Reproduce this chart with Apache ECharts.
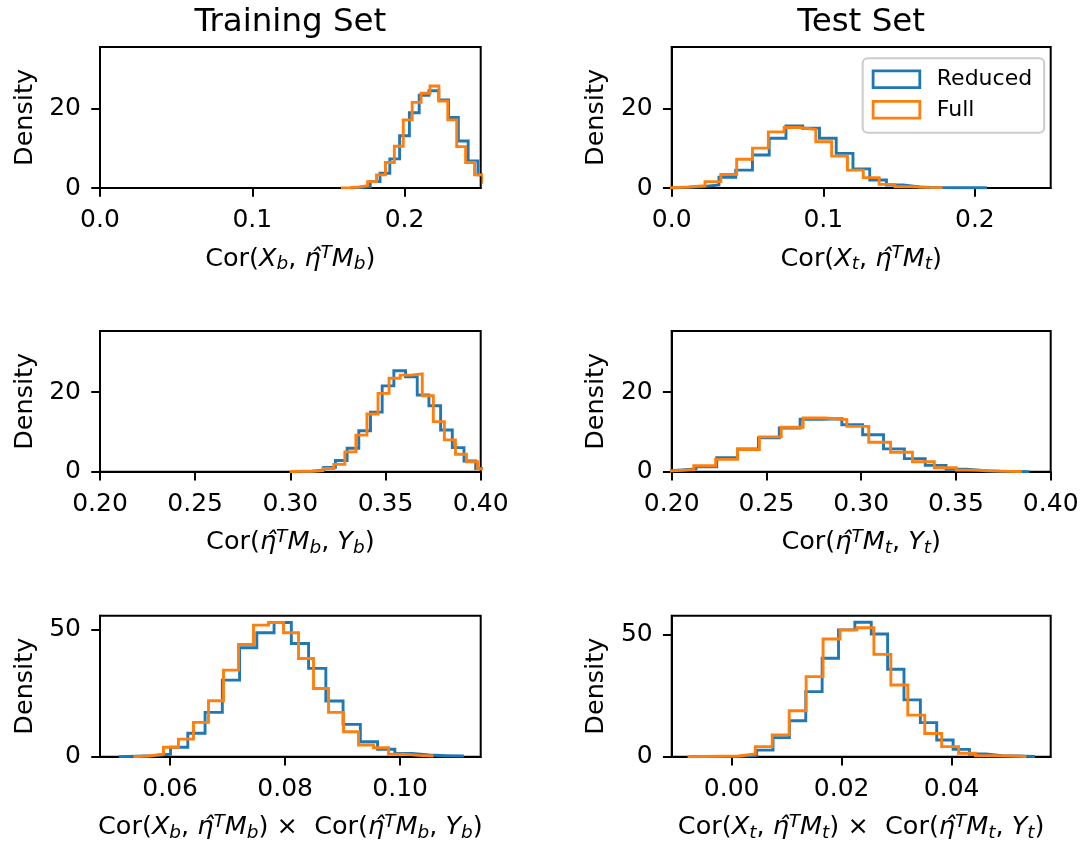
<!DOCTYPE html>
<html>
<head>
<meta charset="utf-8">
<title>Correlation histograms</title>
<script src="https://cdn.jsdelivr.net/npm/echarts@6/dist/echarts.min.js"></script>
<style>
  html, body { margin: 0; padding: 0; background: #fff; }
  #chart { width: 1088px; height: 848px; }
</style>
</head>
<body>
<div id="chart"></div>
<script>
// ---- histogram data: [first bin edge, bin width] and bin densities ----
// Row 1: Cor(X, eta^T M)
const trainXM_Reduced_bins = [0.1646, 0.00643];
const trainXM_Reduced = [0.1, 0.3, 1.6, 3.7, 7.3, 13.1, 18.9, 23.3, 24.4, 22.1, 17.7, 11.8, 6.8, 3.3, 1.2, 0.4];
const trainXM_Full_bins = [0.1582, 0.00585];
const trainXM_Full = [0.1, 0.25, 0.6, 1.6, 3.3, 6.4, 10.5, 17.1, 21.5, 23.8, 25.6, 21.8, 17.1, 10.4, 6.4, 3.3, 1.4, 0.5];

const testXM_Reduced_bins = [-0.00198, 0.01105];
const testXM_Reduced = [0.15, 0.3, 0.75, 2.7, 4.5, 8.3, 12.5, 15.6, 15.0, 12.5, 8.7, 4.8, 2.0, 0.75, 0.25, 0.1, 0.05, 0.05, 0.05];
const testXM_Full_bins = [-0.00934, 0.01044];
const testXM_Full = [0.1, 0.25, 0.6, 1.6, 3.4, 7.2, 10.0, 14.1, 15.2, 14.7, 11.6, 8.0, 4.5, 2.6, 0.9, 0.3, 0.15, 0.1];

// Row 2: Cor(eta^T M, Y)
const trainMY_Reduced_bins = [0.30526, 0.00614];
const trainMY_Reduced = [0.1, 0.4, 1.1, 2.8, 5.9, 10.3, 15.0, 21.6, 25.4, 23.9, 19.3, 16.6, 10.5, 6.05, 2.7, 0.8];
const trainMY_Full_bins = [0.29958, 0.00581];
const trainMY_Full = [0.1, 0.1, 0.25, 0.8, 1.85, 5.0, 9.2, 14.5, 19.7, 23.5, 24.3, 24.6, 19.1, 12.6, 8.0, 4.4, 2.5, 0.7];

const testMY_Reduced_bins = [0.19077, 0.0110];
const testMY_Reduced = [0.3, 0.7, 1.25, 3.5, 5.7, 8.5, 11.0, 13.2, 13.3, 11.8, 9.3, 5.75, 3.3, 1.6, 0.6, 0.17, 0.08, 0.03];
const testMY_Full_bins = [0.18857, 0.01154];
const testMY_Full = [0.2, 0.5, 1.5, 3.1, 5.6, 8.75, 11.2, 13.5, 13.1, 11.4, 7.4, 4.9, 2.5, 1.0, 0.4, 0.15, 0.05];

// Row 3: product of the two correlations
const trainProd_Reduced_bins = [0.05107, 0.0030];
const trainProd_Reduced = [0.2, 0.4, 1.0, 3.7, 9.2, 17.4, 30.1, 42.8, 48.7, 52.7, 44.5, 34.7, 21.9, 12.7, 5.9, 2.9, 1.3, 0.65, 0.4, 0.26];
const trainProd_Full_bins = [0.05362, 0.002609];
const trainProd_Full = [0.26, 1.0, 3.7, 6.9, 13.5, 22.0, 34.0, 44.1, 51.7, 52.7, 48.7, 38.6, 26.8, 17.4, 9.8, 4.6, 3.5, 1.0, 0.5, 0.26];

const testProd_Reduced_bins = [-0.00736, 0.002976];
const testProd_Reduced = [0.1, 0.15, 0.2, 0.5, 2.7, 7.8, 14.7, 26.6, 40.2, 51.8, 54.9, 50.1, 35.7, 23.2, 13.9, 6.8, 3.0, 1.1, 0.4, 0.27, 0.1];
const testProd_Full_bins = [-0.00802, 0.00308];
const testProd_Full = [0.1, 0.2, 0.3, 1.1, 4.1, 8.9, 18.8, 32.7, 48.1, 51.8, 52.7, 41.8, 29.3, 17.0, 9.5, 4.1, 1.4, 0.4, 0.27, 0.1];

// ---- axis ranges and tick labels ----
const xRangeRow1 = [0, 0.25];
const xRangeRow2 = [0.2, 0.4];
const xRangeTrainProd = [0.0478, 0.1140];
const xRangeTestProd = [-0.0109, 0.0580];
const yMaxRow1 = 35.4;
const yMaxRow2 = 35.4;
const yMaxTrainProd = 55.4;
const yMaxTestProd = 57.6;

const xTicksRow1 = ['0.0', '0.1', '0.2'];
const xTicksRow2 = ['0.20', '0.25', '0.30', '0.35', '0.40'];
const xTicksTrainProd = ['0.06', '0.08', '0.10'];
const xTicksTestProd = ['0.00', '0.02', '0.04'];
const yTicksRows12 = ['0', '20'];
const yTicksRow3 = ['0', '50'];

const seriesNames = ['Reduced', 'Full'];
const columnTitles = ['Training Set', 'Test Set'];
const yLabel = 'Density';

// x-axis labels as rich text (r: roman, i: italic, s: subscript, p: superscript)
const xLabels = [
  '{r|Cor(}{i|X}{s|b}{r|, }{i|η̂}{p|T}{i|M}{s|b}{r|)}',
  '{r|Cor(}{i|X}{s|t}{r|, }{i|η̂}{p|T}{i|M}{s|t}{r|)}',
  '{r|Cor(}{i|η̂}{p|T}{i|M}{s|b}{r|, }{i|Y}{s|b}{r|)}',
  '{r|Cor(}{i|η̂}{p|T}{i|M}{s|t}{r|, }{i|Y}{s|t}{r|)}',
  '{r|Cor(}{i|X}{s|b}{r|, }{i|η̂}{p|T}{i|M}{s|b}{r|) ×  Cor(}{i|η̂}{p|T}{i|M}{s|b}{r|, }{i|Y}{s|b}{r|)}',
  '{r|Cor(}{i|X}{s|t}{r|, }{i|η̂}{p|T}{i|M}{s|t}{r|) ×  Cor(}{i|η̂}{p|T}{i|M}{s|t}{r|, }{i|Y}{s|t}{r|)}'
];

// ---- page layout ----
const FONT = 'DejaVu Sans';
const BLUE = '#1f77b4';
const ORANGE = '#ff7f0e';
const colLeft = [100, 671.7];
const colWidth = [380.7, 379];
const rowTop = [47, 331, 615.7];
const rowHeight = [141, 140.7, 141];

const panels = [
  { row: 0, col: 0, xr: xRangeRow1, xt: xTicksRow1, ym: yMaxRow1, yt: yTicksRows12,
    red: [trainXM_Reduced_bins, trainXM_Reduced], full: [trainXM_Full_bins, trainXM_Full] },
  { row: 0, col: 1, xr: xRangeRow1, xt: xTicksRow1, ym: yMaxRow1, yt: yTicksRows12,
    red: [testXM_Reduced_bins, testXM_Reduced], full: [testXM_Full_bins, testXM_Full] },
  { row: 1, col: 0, xr: xRangeRow2, xt: xTicksRow2, ym: yMaxRow2, yt: yTicksRows12,
    red: [trainMY_Reduced_bins, trainMY_Reduced], full: [trainMY_Full_bins, trainMY_Full] },
  { row: 1, col: 1, xr: xRangeRow2, xt: xTicksRow2, ym: yMaxRow2, yt: yTicksRows12,
    red: [testMY_Reduced_bins, testMY_Reduced], full: [testMY_Full_bins, testMY_Full] },
  { row: 2, col: 0, xr: xRangeTrainProd, xt: xTicksTrainProd, ym: yMaxTrainProd, yt: yTicksRow3,
    red: [trainProd_Reduced_bins, trainProd_Reduced], full: [trainProd_Full_bins, trainProd_Full] },
  { row: 2, col: 1, xr: xRangeTestProd, xt: xTicksTestProd, ym: yMaxTestProd, yt: yTicksRow3,
    red: [testProd_Reduced_bins, testProd_Reduced], full: [testProd_Full_bins, testProd_Full] }
];

// Outline of a step histogram: up the first edge, across each bin, down the last edge.
function stepOutline(bins, heights) {
  const start = bins[0], width = bins[1];
  const pts = [[start, 0]];
  heights.forEach((h, i) => {
    pts.push([start + i * width, h]);
    pts.push([start + (i + 1) * width, h]);
  });
  pts.push([start + heights.length * width, 0]);
  return pts;
}

function labelLookup(labels) {
  const values = labels.map(Number);
  return {
    values,
    fmt: v => {
      const k = values.findIndex(x => Math.abs(x - v) < 1e-9);
      return k >= 0 ? labels[k] : '';
    }
  };
}

const richStyles = {
  r: { fontFamily: FONT, fontSize: 25.5, lineHeight: 30, color: '#000' },
  i: { fontFamily: FONT, fontSize: 25.5, lineHeight: 30, fontStyle: 'italic', color: '#000' },
  s: { fontFamily: FONT, fontSize: 18.5, lineHeight: 17, fontStyle: 'italic', verticalAlign: 'bottom', color: '#000' },
  p: { fontFamily: FONT, fontSize: 18.5, lineHeight: 22, fontStyle: 'italic', verticalAlign: 'top', color: '#000' }
};

const grid = [], xAxis = [], yAxis = [], series = [];
panels.forEach((p, k) => {
  grid.push({
    left: colLeft[p.col], top: rowTop[p.row],
    width: colWidth[p.col], height: rowHeight[p.row],
    show: true, borderColor: '#000', borderWidth: 2, backgroundColor: 'transparent'
  });
  const xl = labelLookup(p.xt);
  const yl = labelLookup(p.yt);
  xAxis.push({
    type: 'value', gridIndex: k, min: p.xr[0], max: p.xr[1],
    axisLine: { show: true, onZero: false, lineStyle: { color: '#000', width: 2 } },
    axisTick: { show: true, customValues: xl.values, length: 8.75, lineStyle: { color: '#000', width: 2 } },
    axisLabel: { customValues: xl.values, formatter: xl.fmt, margin: 20,
      fontFamily: FONT, fontSize: 25, color: '#000' },
    splitLine: { show: false },
    name: xLabels[k], nameLocation: 'middle', nameGap: 56,
    nameTextStyle: { rich: richStyles }
  });
  yAxis.push({
    type: 'value', gridIndex: k, min: 0, max: p.ym,
    axisLine: { show: true, onZero: false, lineStyle: { color: '#000', width: 2 } },
    axisTick: { show: true, customValues: yl.values, length: 8.75, lineStyle: { color: '#000', width: 2 } },
    axisLabel: { customValues: yl.values, formatter: yl.fmt, margin: 19,
      fontFamily: FONT, fontSize: 25, color: '#000' },
    splitLine: { show: false },
    name: yLabel, nameLocation: 'middle', nameRotate: 90, nameGap: 62,
    nameTextStyle: { fontFamily: FONT, fontSize: 25.5, color: '#000' }
  });
  [[p.red, seriesNames[0], BLUE], [p.full, seriesNames[1], ORANGE]].forEach(([h, name, color]) => {
    series.push({
      type: 'line', name, xAxisIndex: k, yAxisIndex: k,
      data: stepOutline(h[0], h[1]),
      showSymbol: false, symbol: 'none', clip: true, silent: true,
      color, lineStyle: { color, width: 2.9, join: 'miter' },
      emphasis: { disabled: true }
    });
  });
});

const chart = echarts.init(document.getElementById('chart'), null, { renderer: 'canvas' });
chart.setOption({
  backgroundColor: '#fff',
  animation: false,
  title: columnTitles.map((t, c) => ({
    text: t, left: colLeft[c] + colWidth[c] / 2, top: 6, textAlign: 'center', padding: 0,
    textStyle: { fontFamily: FONT, fontSize: 32.5, fontWeight: 'normal', color: '#000' }
  })),
  legend: {
    orient: 'vertical', left: 862.7, top: 58.3,
    padding: [10, 12, 12, 9],
    itemWidth: 46.7, itemHeight: 16.7, itemGap: 8.5,
    icon: 'rect',
    backgroundColor: 'rgba(255,255,255,0.8)',
    borderColor: '#cccccc', borderWidth: 2, borderRadius: 5,
    textStyle: { fontFamily: FONT, fontSize: 22, color: '#000', lineHeight: 17, padding: [0, 0, 0, 12] },
    selectedMode: false,
    data: [
      { name: seriesNames[0], itemStyle: { color: 'transparent', borderColor: BLUE, borderWidth: 2.8 } },
      { name: seriesNames[1], itemStyle: { color: 'transparent', borderColor: ORANGE, borderWidth: 2.8 } }
    ]
  },
  grid, xAxis, yAxis, series
});
</script>
</body>
</html>
